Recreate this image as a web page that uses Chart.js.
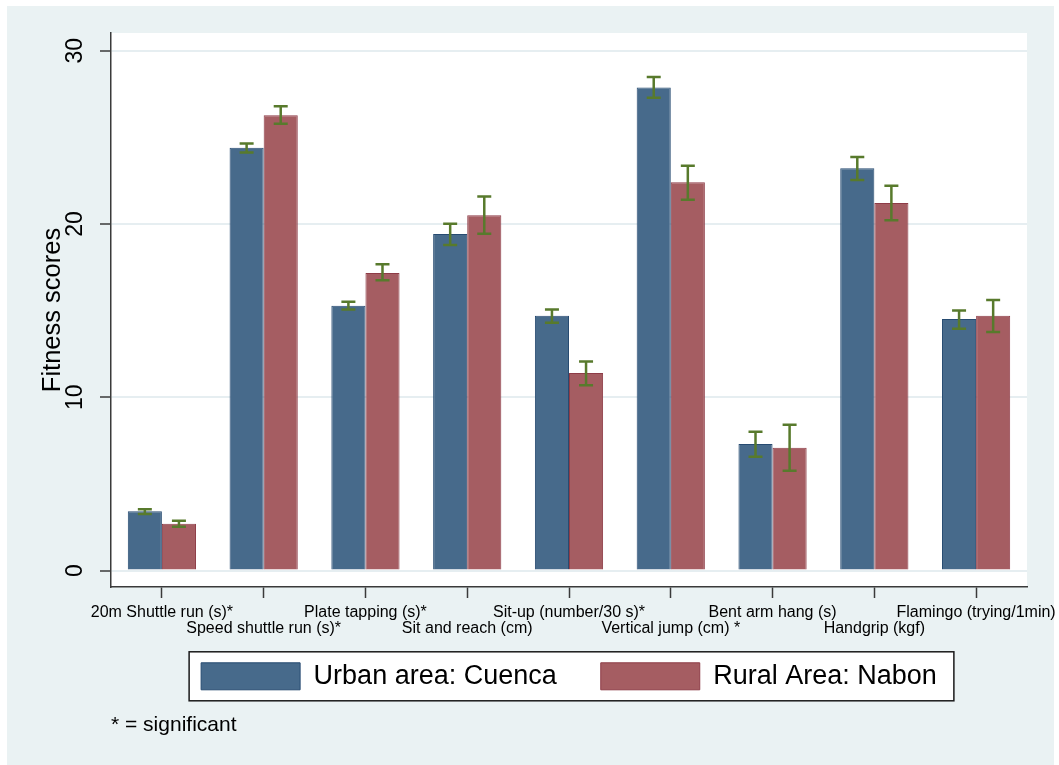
<!DOCTYPE html>
<html>
<head>
<meta charset="utf-8">
<title>Fitness scores by area</title>
<script src="https://cdn.jsdelivr.net/npm/chart.js@4"></script>
<style>
  html, body { margin: 0; padding: 0; background: #ffffff; }
  #wrap { width: 1059px; height: 765px; }
</style>
</head>
<body>
<div id="wrap"><canvas id="chart" width="1059" height="765"></canvas></div>
<script>
// Fitness tests (x categories)
const tests = [
  '20m Shuttle run (s)*',
  'Speed shuttle run (s)*',
  'Plate tapping (s)*',
  'Sit and reach (cm)',
  'Sit-up (number/30 s)*',
  'Vertical jump (cm) *',
  'Bent arm hang (s)',
  'Handgrip (kgf)',
  'Flamingo (trying/1min)'
];

// Urban area: Cuenca — means and confidence limits
const urbanMean = [3.42, 24.40, 15.28, 19.42, 14.70, 27.88, 7.30, 23.21, 14.51];
const urbanLow  = [3.26, 24.13, 15.07, 18.78, 14.30, 27.28, 6.57, 22.53, 13.95];
const urbanHigh = [3.53, 24.65, 15.51, 20.01, 15.07, 28.48, 8.01, 23.86, 15.01];

// Rural Area: Nabon — means and confidence limits
const ruralMean = [2.70, 26.27, 17.17, 20.51, 11.40, 22.40, 7.09, 21.21, 14.70];
const ruralLow  = [2.53, 25.78, 16.75, 19.43, 10.69, 21.40, 5.76, 20.21, 13.76];
const ruralHigh = [2.87, 26.80, 17.67, 21.59, 12.07, 23.36, 8.41, 22.20, 15.61];

// Y axis ticks
const yTicks = [0, 10, 20, 30];

// Staggered two-row category labels
const xLabels = tests.map((t, i) => (i % 2 === 0 ? [t, ''] : ['', t]));

const FONT = "'Liberation Sans', Arial, Helvetica, sans-serif";
const BG = '#eaf2f3';
const AXIS = '#3a3a3a';

// Background panels and the frame around the legend
const panels = {
  id: 'panels',
  beforeDraw(chart) {
    const { ctx, chartArea: a } = chart;
    ctx.save();
    ctx.fillStyle = BG;
    ctx.fillRect(7, 6, 1047, 759);
    ctx.fillStyle = '#ffffff';
    ctx.fillRect(a.left, a.top, a.right - a.left, a.bottom - a.top);
    const lg = chart.legend;
    if (lg && lg.legendHitBoxes && lg.legendHitBoxes.length) {
      const hb = lg.legendHitBoxes;
      const first = hb[0], last = hb[hb.length - 1];
      const cy = first.top + first.height / 2;
      const x0 = first.left - 12, x1 = last.left + last.width + 17;
      ctx.fillStyle = '#ffffff';
      ctx.fillRect(x0, cy - 24.5, x1 - x0, 49);
      ctx.strokeStyle = '#1a1a1a';
      ctx.lineWidth = 1.5;
      ctx.strokeRect(x0, cy - 24.5, x1 - x0, 49);
    }
    ctx.restore();
  }
};

// Capped confidence-interval whiskers on every bar
const whiskers = {
  id: 'whiskers',
  afterDatasetsDraw(chart) {
    const { ctx } = chart;
    const y = chart.scales.y;
    ctx.save();
    ctx.strokeStyle = '#587a2c';
    ctx.lineWidth = 2.5;
    ctx.lineCap = 'butt';
    chart.data.datasets.forEach((ds, di) => {
      const meta = chart.getDatasetMeta(di);
      meta.data.forEach((bar, j) => {
        const x = bar.x;
        const yl = y.getPixelForValue(ds.low[j]);
        const yh = y.getPixelForValue(ds.high[j]);
        const cap = 7;
        ctx.beginPath();
        ctx.moveTo(x, yl); ctx.lineTo(x, yh);
        ctx.moveTo(x - cap, yh); ctx.lineTo(x + cap, yh);
        ctx.moveTo(x - cap, yl); ctx.lineTo(x + cap, yl);
        ctx.stroke();
      });
    });
    ctx.restore();
  }
};

new Chart(document.getElementById('chart'), {
  type: 'bar',
  data: {
    labels: xLabels,
    datasets: [
      {
        label: 'Urban area: Cuenca',
        data: urbanMean,
        low: urbanLow,
        high: urbanHigh,
        backgroundColor: '#476a8b',
        borderColor: '#274b71',
        borderWidth: 1
      },
      {
        label: 'Rural Area: Nabon',
        data: ruralMean,
        low: ruralLow,
        high: ruralHigh,
        backgroundColor: '#a55d62',
        borderColor: '#8e3c47',
        borderWidth: 1
      }
    ]
  },
  options: {
    responsive: false,
    animation: false,
    devicePixelRatio: 1,
    categoryPercentage: 0.67,
    barPercentage: 1.0,
    layout: { padding: { left: 0, right: 32, top: 33, bottom: 0 } },
    scales: {
      x: {
        grid: {
          display: true,
          drawOnChartArea: false,
          offset: false,
          tickLength: 11,
          tickColor: AXIS,
          tickWidth: 1.5
        },
        border: { display: true, color: AXIS, width: 1.5 },
        ticks: {
          autoSkip: false,
          maxRotation: 0,
          minRotation: 0,
          padding: 6.5,
          color: '#000',
          font: { family: FONT, size: 16, lineHeight: 1.02 }
        },
        afterFit(s) {
          s.height = 31.8;
          s.paddingLeft = 0;
          s.paddingRight = 0;
          // the two label rows reach below the axis box into the legend's top margin
          s._computeLabelArea = () => undefined;
        }
      },
      y: {
        min: -0.95,
        max: 31.02,
        afterBuildTicks(s) { s.ticks = yTicks.map(v => ({ value: v })); },
        grid: {
          color: '#e6eef1',
          lineWidth: 2,
          tickLength: 11,
          tickColor: AXIS,
          tickWidth: 1.5
        },
        border: { display: true, color: AXIS, width: 1.5 },
        ticks: {
          minRotation: 90,
          maxRotation: 90,
          crossAlign: 'center',
          padding: 11.5,
          color: '#000',
          font: { family: FONT, size: 23 }
        },
        title: {
          display: true,
          text: 'Fitness scores',
          color: '#000',
          font: { family: FONT, size: 25.5, lineHeight: 1.2 },
          padding: { top: 38, bottom: 0 }
        },
        afterFit(s) { s.width = 111; s.paddingTop = 0; s.paddingBottom = 0; }
      }
    },
    plugins: {
      legend: {
        position: 'bottom',
        fullSize: false,
        labels: {
          boxWidth: 99,
          boxHeight: 27,
          padding: 44,
          color: '#000',
          font: { family: FONT, size: 27 }
        }
      },
      title: {
        display: true,
        text: '* = significant',
        position: 'bottom',
        align: 'start',
        fullSize: false,
        color: '#000',
        font: { family: FONT, size: 21, weight: 'normal', lineHeight: 1.2 },
        padding: { top: 12.6, bottom: 27.4 }
      },
      tooltip: { enabled: false }
    }
  },
  plugins: [panels, whiskers]
});
</script>
</body>
</html>
